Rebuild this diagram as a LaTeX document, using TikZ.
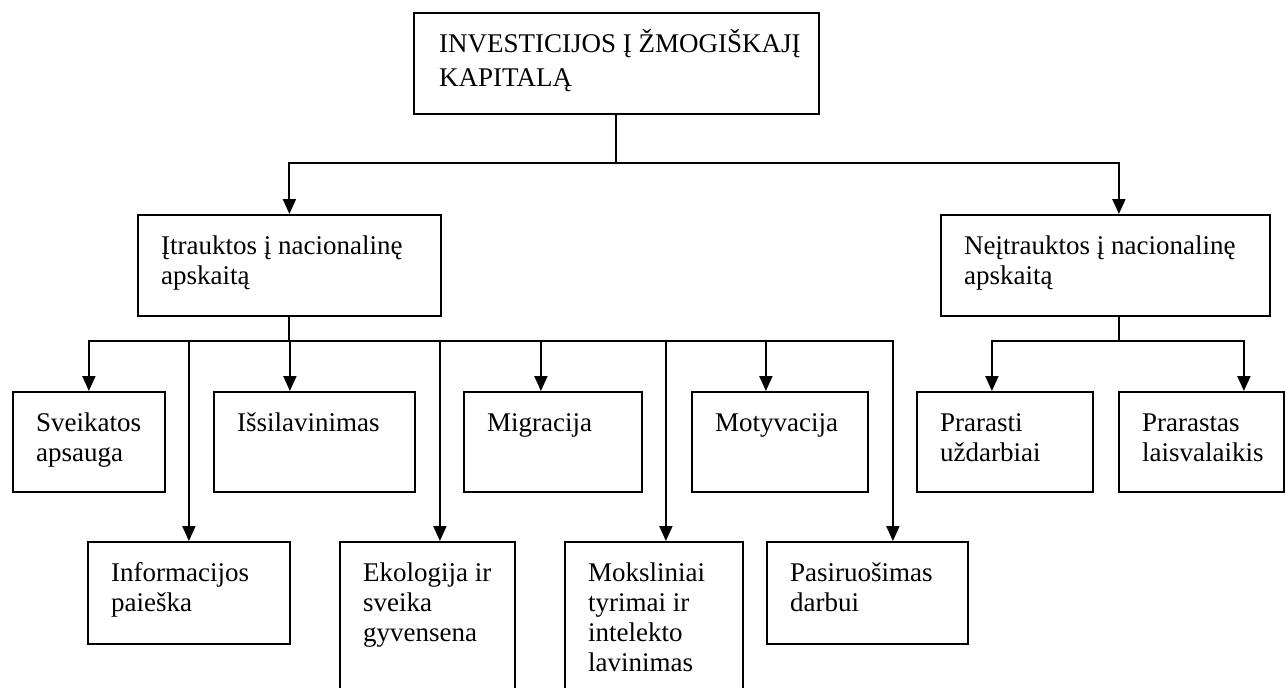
\documentclass[tikz,border=0pt]{standalone}
\usepackage{fontspec}
\setmainfont{Liberation Serif}
\usetikzlibrary{arrows.meta}
\tikzset{
  box/.style={draw, line width=1.8pt, anchor=north west, inner sep=0pt},
  lbl/.style={anchor=base west, inner sep=0pt, font=\fontsize{27}{30}\selectfont},
  conn/.style={line width=2pt},
  arr/.style={conn, -{Triangle[length=15pt,width=13pt]}},
}
\newcommand{\mkbox}[5]{\node[box, minimum width={(#4-#2)*1pt}, minimum height={(#5-#3)*1pt}] (#1) at (#2,#3) {};}
\newcommand{\mktext}[3]{\node[lbl] (#1) at ([shift={(24pt,-40pt)}]#2.north west) {\parbox[t]{400pt}{#3}};}
\begin{document}
\begin{tikzpicture}[x=1pt,y=-1pt]
\clip (0,0) rectangle (1285,688);
\fill[white] (0,0) rectangle (1285,688);
% boxes
\mkbox{top}{413}{12}{818}{113}
\mkbox{lm}{137}{214}{440}{315}
\mkbox{rm}{940}{214}{1269}{315}
\mkbox{sv}{12}{391}{164}{491}
\mkbox{is}{213}{391}{414}{491}
\mkbox{mi}{463}{391}{641}{491}
\mkbox{mo}{691}{391}{867}{491}
\mkbox{pu}{916}{391}{1092}{491}
\mkbox{pl}{1118}{391}{1283}{491}
\mkbox{in}{87}{541}{289}{643}
\mkbox{ek}{339}{541}{514}{700}
\mkbox{mk}{564}{541}{742}{700}
\mkbox{pa}{766}{541}{967}{643}
% texts
\node[lbl, font=\fontsize{27}{34}\selectfont] (top-t) at ([shift={(26pt,-40pt)}]top.north west) {\parbox[t]{400pt}{INVESTICIJOS Į ŽMOGIŠKAJĮ\\KAPITALĄ}};
\mktext{lm-t}{lm}{Įtrauktos į nacionalinę\\apskaitą}
\mktext{rm-t}{rm}{Neįtrauktos į nacionalinę\\apskaitą}
\mktext{sv-t}{sv}{Sveikatos\\apsauga}
\mktext{is-t}{is}{Išsilavinimas}
\mktext{mi-t}{mi}{Migracija}
\mktext{mo-t}{mo}{Motyvacija}
\mktext{pu-t}{pu}{Prarasti\\uždarbiai}
\mktext{pl-t}{pl}{Prarastas\\laisvalaikis}
\mktext{in-t}{in}{Informacijos\\paieška}
\mktext{ek-t}{ek}{Ekologija ir\\sveika\\gyvensena}
\mktext{mk-t}{mk}{Moksliniai\\tyrimai ir\\intelekto\\lavinimas}
\mktext{pa-t}{pa}{Pasiruošimas\\darbui}
% buses
\coordinate (busA) at (0,163);
\coordinate (busB) at (0,341);
% top level
\draw[conn] (top.south) -- (top.south |- busA);
\draw[arr] (top.south |- busA) -| (lm.north);
\draw[arr] (top.south |- busA) -| ([xshift=13.5pt]rm.north);
% left branch
\draw[conn] (lm.south) -- (lm.south |- busB);
\draw[arr] (lm.south |- busB) -| (sv.north);
\draw[arr] (lm.south |- busB) -| ([xshift=-24.5pt]is.north);
\draw[arr] (lm.south |- busB) -| ([xshift=-12pt]mi.north);
\draw[arr] (lm.south |- busB) -| ([xshift=-14pt]mo.north);
\draw[arr] (lm.south |- busB) -| (in.north);
\draw[arr] (lm.south |- busB) -| ([xshift=12.5pt]ek.north);
\draw[arr] (lm.south |- busB) -| ([xshift=12pt]mk.north);
\draw[arr] (lm.south |- busB) -| ([xshift=25.5pt]pa.north);
% right branch
\draw[conn] ([xshift=13.5pt]rm.south) -- ([xshift=13.5pt]rm.south |- busB);
\draw[arr] ([xshift=13.5pt]rm.south |- busB) -| ([xshift=-13pt]pu.north);
\draw[arr] ([xshift=13.5pt]rm.south |- busB) -| ([xshift=42.5pt]pl.north);
\end{tikzpicture}
\end{document}
